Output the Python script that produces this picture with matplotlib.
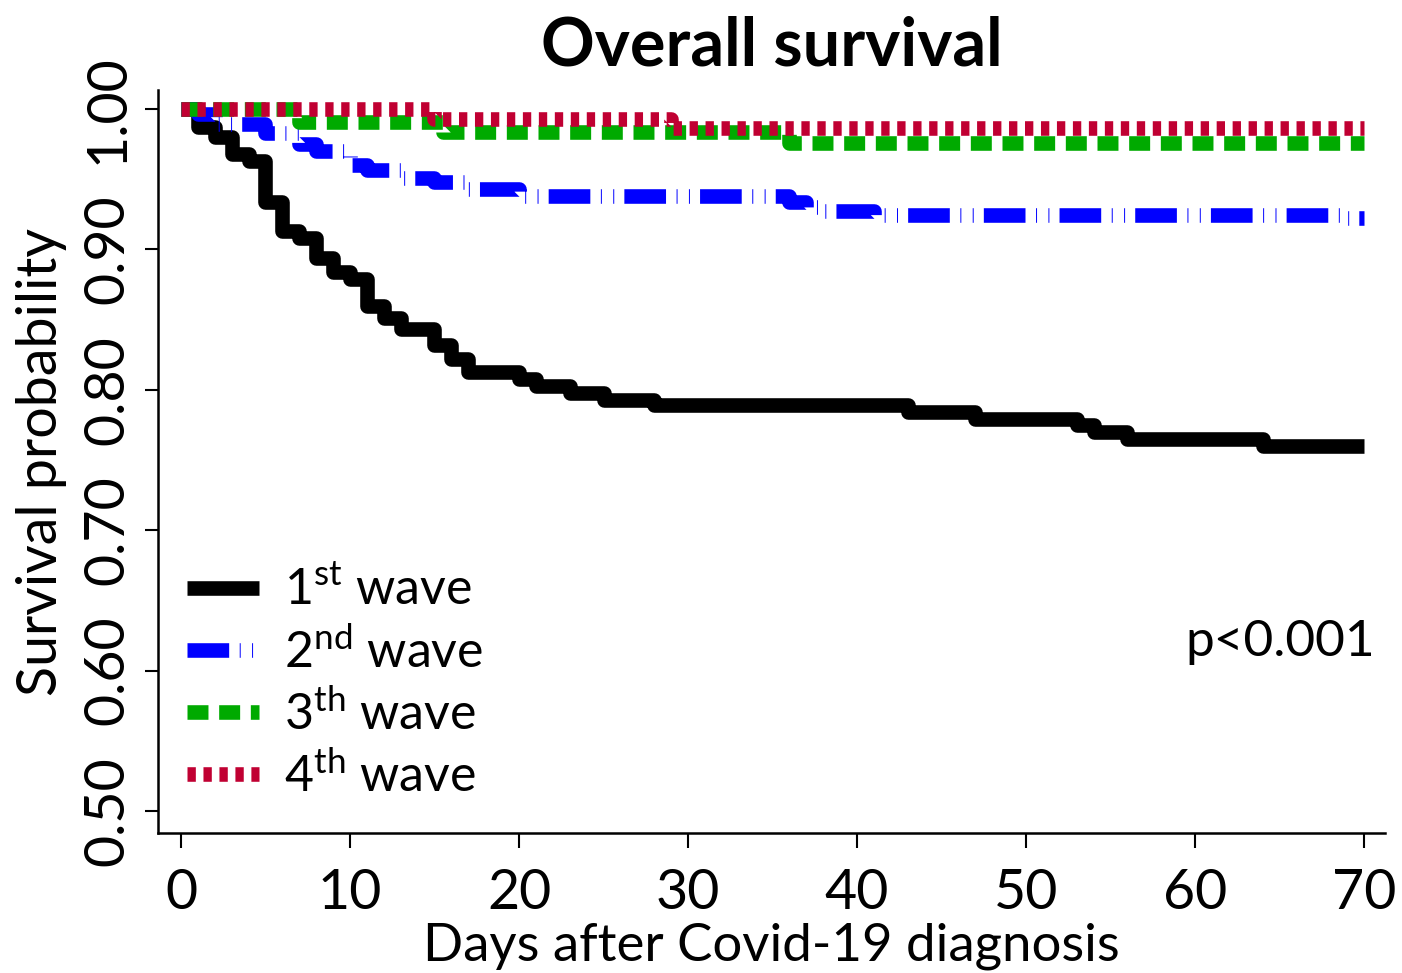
import matplotlib
matplotlib.use("Agg")
import matplotlib.pyplot as plt

plt.rcParams['font.family'] = ['Lato', 'DejaVu Sans']
plt.rcParams['mathtext.fontset'] = 'custom'
plt.rcParams['mathtext.rm'] = 'Lato'
plt.rcParams['lines.scale_dashes'] = False

# Kaplan-Meier steps (day, survival after the step)
days_w1 = [0, 1, 2, 3, 4, 5, 6, 7, 8, 9, 10, 11, 12, 13, 15, 16, 17, 20, 21,
           23, 25, 28, 43, 47, 53, 54, 56, 64, 70]
surv_w1 = [1.0, 0.987, 0.980, 0.968, 0.963, 0.934, 0.913, 0.908, 0.894, 0.884,
           0.879, 0.860, 0.851, 0.843, 0.832, 0.822, 0.813, 0.808, 0.803,
           0.798, 0.793, 0.789, 0.784, 0.779, 0.775, 0.770, 0.765, 0.760, 0.760]

days_w2 = [0, 1, 2, 5, 7, 8, 10, 11, 13, 15, 17, 20, 36, 37, 38, 41, 69, 70]
surv_w2 = [1.0, 0.9964, 0.989, 0.983, 0.975, 0.970, 0.960, 0.9566, 0.951,
           0.948, 0.943, 0.938, 0.9336, 0.930, 0.927, 0.9245, 0.922, 0.922]

days_w3 = [0, 7, 15.5, 36, 70]
surv_w3 = [1.0, 0.9905, 0.9834, 0.9756, 0.9756]

days_w4 = [0, 15, 29, 70]
surv_w4 = [1.0, 0.9927, 0.9866, 0.9866]

labels = ['1$^{\\mathrm{st}}$ wave', '2$^{\\mathrm{nd}}$ wave',
          '3$^{\\mathrm{th}}$ wave', '4$^{\\mathrm{th}}$ wave']
xticks = [0, 10, 20, 30, 40, 50, 60, 70]
yticks = [0.5, 0.6, 0.7, 0.8, 0.9, 1.0]

fig = plt.figure(figsize=(14.02, 9.73), dpi=100)
ax = fig.add_axes([158/1402, 1-833/973, (1385-158)/1402, (833-90)/973])

lw = 10.5
ax.step(days_w1, surv_w1, where='post', color='black', lw=lw,
        solid_joinstyle='round', solid_capstyle='butt', label=labels[0])
ax.step(days_w2, surv_w2, where='post', color='#0000ff', lw=lw,
        dashes=[30, 7.6, 0.7, 8.2, 0.7, 7.3], dash_capstyle='butt',
        dash_joinstyle='round', label=labels[1])
ax.step(days_w3, surv_w3, where='post', color='#00aa00', lw=lw,
        dashes=[15.1, 7.7], dash_capstyle='butt', label=labels[2])
ax.step(days_w4, surv_w4, where='post', color='#c00032', lw=lw,
        dashes=[6.0, 5.5], dash_capstyle='butt', label=labels[3])

ax.set_xlim(-1.36, 71.24)
ax.set_ylim(0.4843, 1.0135)
ax.set_xticks(xticks)
ax.set_yticks(yticks)
ax.set_yticklabels(['%.2f' % v for v in yticks])

for s in ['top', 'right']:
    ax.spines[s].set_visible(False)
for s in ['left', 'bottom']:
    ax.spines[s].set_linewidth(1.8)

ax.tick_params(axis='x', direction='out', length=11, width=1.5, pad=14, labelsize=40)
ax.tick_params(axis='y', direction='out', length=9.5, width=1.5, pad=8, labelsize=40)
plt.setp(ax.get_yticklabels(), rotation=90, va='center')

ax.set_xlabel('Days after Covid-19 diagnosis', fontsize=38, labelpad=3)
ax.set_ylabel('Survival probability', fontsize=40, labelpad=11)
ax.set_title('Overall survival', fontsize=48, fontweight='bold', pad=18)

ax.text(70.65, 0.62, 'p<0.001', ha='right', va='center', fontsize=37)

ax.legend(loc='upper left', bbox_to_anchor=(0.0236, 0.358), frameon=False,
          fontsize=36, handlelength=1.45, handletextpad=0.5, labelspacing=0.26,
          borderaxespad=0, borderpad=0)

fig.savefig('out.png', dpi=100)
